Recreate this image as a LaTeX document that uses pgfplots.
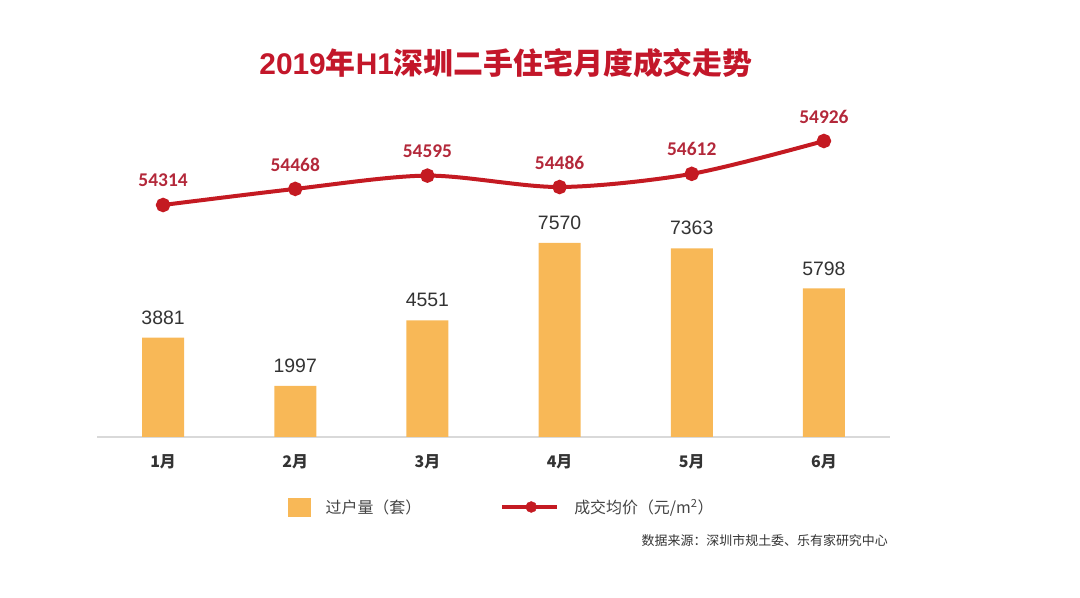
\documentclass[border=0pt]{standalone}
\usepackage{pgfplots}
\pgfplotsset{compat=1.18}
\usepackage{fontspec}
\setmainfont{Liberation Sans}
\newfontfamily\cjk{Noto Sans CJK SC}
\newfontfamily\calfont{Carlito}
\definecolor{barc}{HTML}{F8B857}
\definecolor{linec}{HTML}{C41A22}
\definecolor{lblc}{HTML}{B3283A}
\definecolor{titc}{HTML}{C3172A}
\definecolor{txt}{HTML}{333333}
\definecolor{legtxt}{HTML}{444444}
\begin{document}
\begin{tikzpicture}
\path (0,0) rectangle (1080bp,598bp);
\node[text=titc, font=\fontsize{30}{36}\selectfont\bfseries, anchor=center, inner sep=0pt] at (506bp,535bp) {2019{\cjk\bfseries 年}H1{\cjk\bfseries 深圳二手住宅月度成交走势}};
\node[anchor=east, font=\cjk\fontsize{13}{15}\selectfont, text=txt, inner sep=0pt] at (888bp,57bp) {数据来源：深圳市规土委、乐有家研究中心};
\begin{axis}[
  at={(97bp,161bp)}, anchor=south west,
  width=793bp, height=337bp, scale only axis,
  xmin=-0.5, xmax=5.5, ymin=0, ymax=13149,
  axis x line*=bottom, axis y line=none,
  x axis line style={-, draw=black!15, line width=1.5bp},
  xtick={0,1,2,3,4,5}, xticklabels={1月,2月,3月,4月,5月,6月}, major tick length=0,
  xticklabel style={font=\cjk\bfseries\fontsize{16}{19}\selectfont, text=txt, yshift=-14bp},
  ytick=\empty, clip=false,
  /pgf/number format/assume math mode=true,
  /pgf/number format/1000 sep={},
  legend style={at={(0.2409,-0.2077)}, anchor=west, draw=none, fill=none, inner sep=0pt,
    legend columns=2, font=\cjk\fontsize{16}{19}\selectfont, text=legtxt,
    nodes={inner sep=0pt, anchor=west},
    /tikz/every odd column/.append style={column sep=15bp},
    /tikz/every even column/.append style={column sep=79bp}},
]
\addplot[ybar, bar width=42bp, fill=barc, draw=none, forget plot,
  nodes near coords,
  nodes near coords style={font=\fontsize{19.5}{22}\selectfont, text=txt, anchor=center, yshift=20bp}]
  coordinates {(0,3881) (1,1997) (2,4551) (3,7570) (4,7363) (5,5798)};
\addlegendimage{legend image code/.code={\fill[barc] (0bp,-9bp) rectangle (22bp,9bp);}}
\addlegendentry{过户量（套）}
\addlegendimage{legend image code/.code={\draw[linec, line width=4bp] (0bp,0bp) -- (55bp,0bp); \fill[linec] (29bp,0bp) circle (5.5bp);}}
\addlegendentry{成交均价（元/m\textsuperscript{2}）}
\end{axis}
\begin{axis}[
  at={(97bp,161bp)}, anchor=south west,
  width=793bp, height=337bp, scale only axis,
  xmin=-0.5, xmax=5.5, ymin=52096, ymax=55318,
  hide axis, clip=false,
  /pgf/number format/assume math mode=true,
  /pgf/number format/1000 sep={},
]
\addplot[linec, line width=4bp, smooth, tension=0.5, mark=*, mark size=5.2bp,
  mark options={solid, fill=linec, draw=none},
  nodes near coords,
  nodes near coords style={font=\calfont\bfseries\fontsize{19.5}{22}\selectfont, text=lblc, anchor=center, yshift=24.5bp}]
  coordinates {(0,54314) (1,54468) (2,54595) (3,54486) (4,54612) (5,54926)};
\end{axis}
\end{tikzpicture}
\end{document}
